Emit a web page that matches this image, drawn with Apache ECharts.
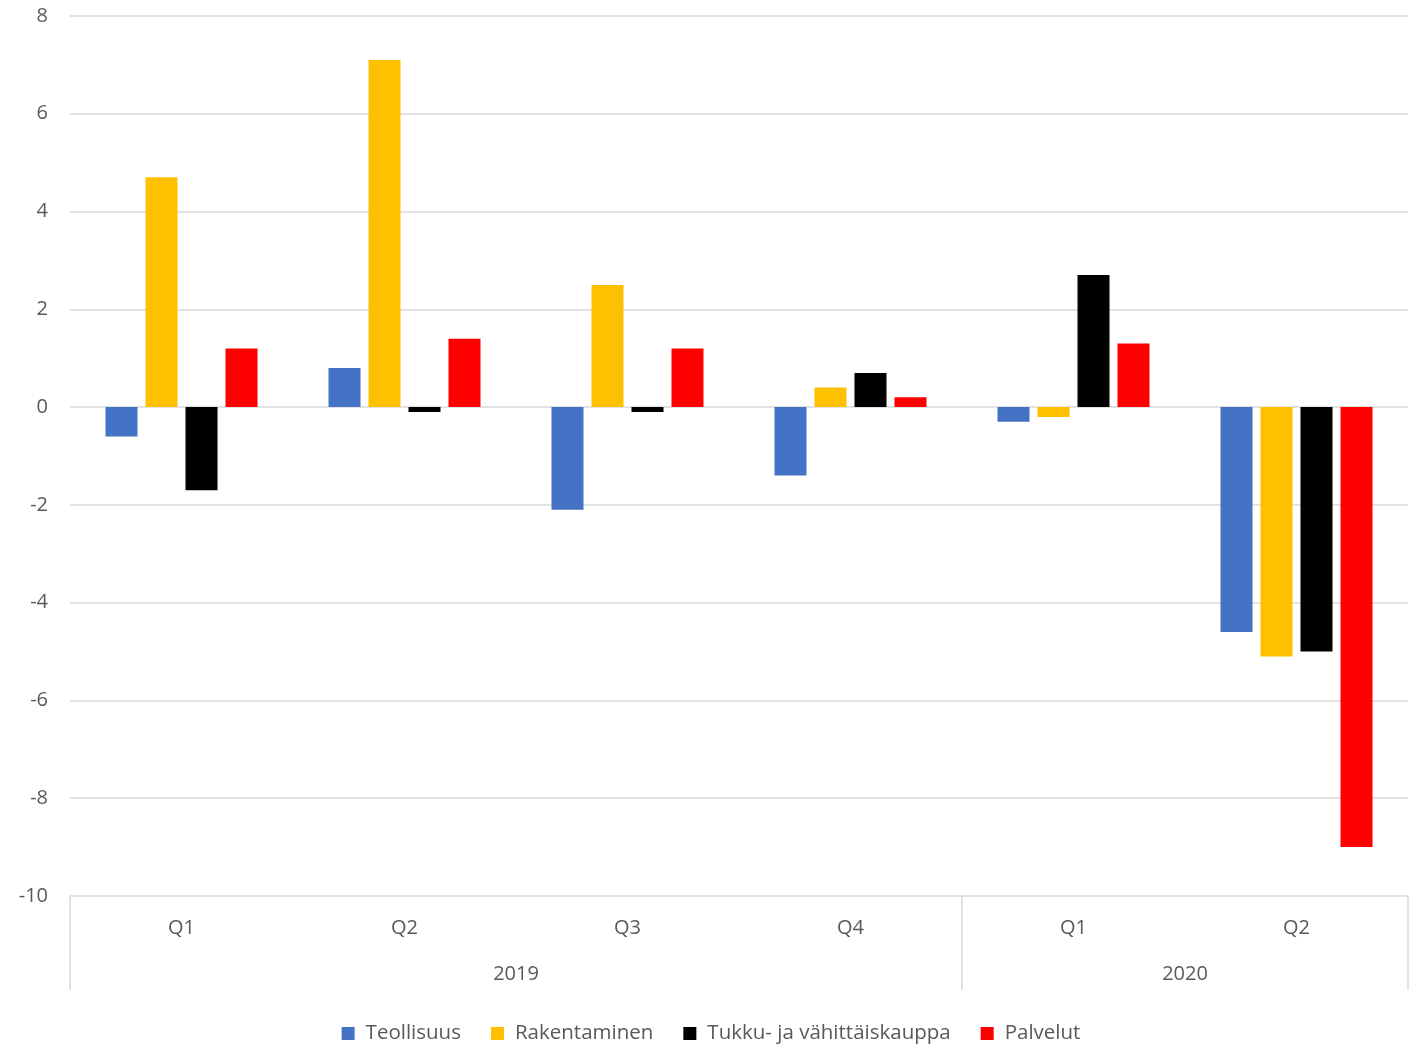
<!DOCTYPE html>
<html><head><meta charset="utf-8">
<script src="https://cdn.jsdelivr.net/npm/echarts@6/dist/echarts.min.js"></script>
<style>html,body{margin:0;padding:0;background:#fff}#c{width:1422px;height:1047px}</style>
</head><body><div id="c"></div>
<script>
const quarters = ['Q1','Q2','Q3','Q4','Q1','Q2'];
const years = ['2019','2020'];
const yearBounds = [0,4,6];
const yearCenters = [2,5];
const seriesNames = ['Teollisuus','Rakentaminen','Tukku- ja vähittäiskauppa','Palvelut'];
const teollisuus = [-0.6, 0.8, -2.1, -1.4, -0.3, -4.6];
const rakentaminen = [4.7, 7.1, 2.5, 0.4, -0.2, -5.1];
const tukku = [-1.7, -0.1, -0.1, 0.7, 2.7, -5.0];
const palvelut = [1.2, 1.4, 1.2, 0.2, 1.3, -9.0];
const colors = ['#4472C4','#FFC000','#000000','#FF0000'];
const font = '"Open Sans", "Noto Sans", sans-serif';
const txt = '#595959';

const chart = echarts.init(document.getElementById('c'));
const data = [teollisuus, rakentaminen, tukku, palvelut];
chart.setOption({
  animation: false,
  color: colors,
  textStyle: {fontFamily: font},
  grid: {left: 70, right: 14, top: 16, bottom: 151, containLabel: false},
  legend: {
    bottom: -2, left: 'center', itemWidth: 13, itemHeight: 13, itemGap: 30,
    icon: 'rect',
    textStyle: {color: txt, fontSize: 20.5, fontFamily: font, padding: [0, 0, 0, 6]},
    data: seriesNames
  },
  xAxis: [
    {type: 'category', data: quarters, position: 'bottom',
     axisLine: {show: false}, axisTick: {show: false},
     axisLabel: {color: txt, fontSize: 20, margin: 22, fontFamily: font}},
    {type: 'value', min: 0, max: 6, position: 'bottom',
     axisLine: {show: false}, splitLine: {show: false},
     axisTick: {show: true, customValues: yearBounds, length: 94, lineStyle: {color: '#d9d9d9', width: 1.5}},
     axisLabel: {customValues: yearCenters, color: txt, fontSize: 20, margin: 68, fontFamily: font,
       formatter: v => years[yearCenters.indexOf(v)] || ''}}
  ],
  yAxis: {
    type: 'value', min: -10, max: 8, interval: 2,
    axisLine: {show: false}, axisTick: {show: false},
    axisLabel: {color: txt, fontSize: 20, margin: 22, fontFamily: font},
    splitLine: {lineStyle: {color: '#d9d9d9', width: 1.5}}
  },
  series: seriesNames.map((n, i) => ({
    name: n, type: 'bar', xAxisIndex: 0, data: data[i],
    barWidth: 32, barGap: '25%', itemStyle: {color: colors[i]}
  }))
});
</script></body></html>
